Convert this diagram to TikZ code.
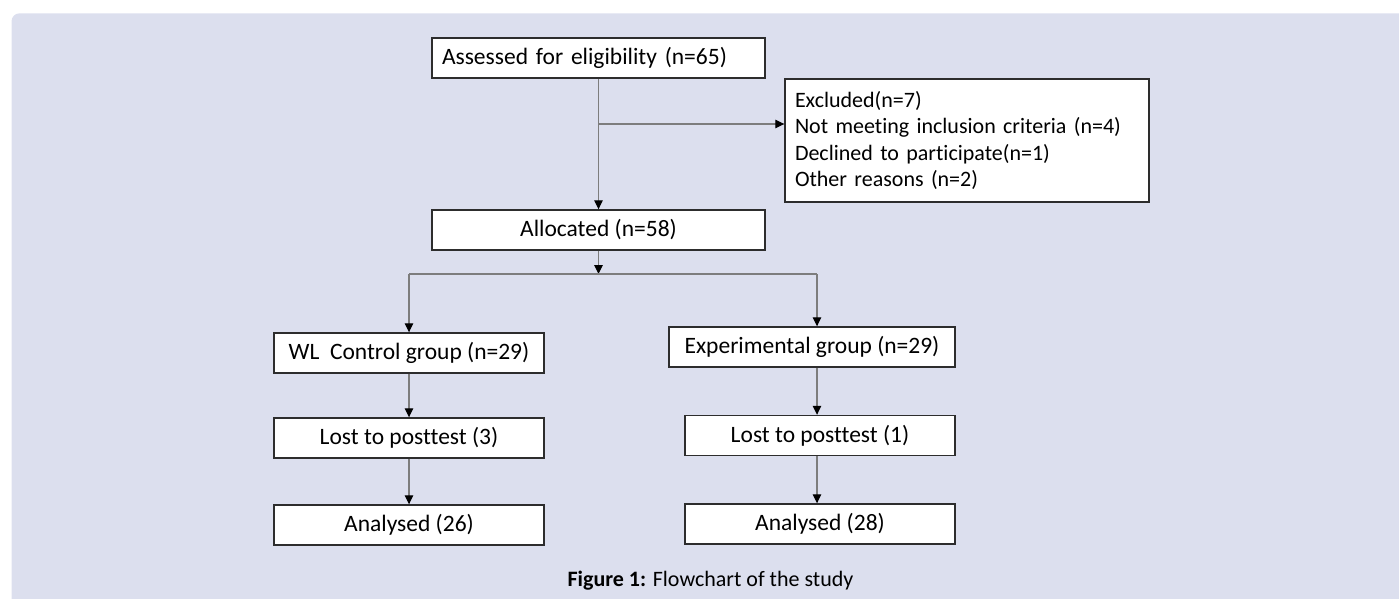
\documentclass[tikz,border=0pt]{standalone}
\usepackage{fontspec}
\setmainfont{Carlito}[Ligatures=NoCommon]
\usetikzlibrary{arrows.meta}
\definecolor{bgc}{RGB}{220,223,238}
\definecolor{linec}{RGB}{125,125,125}
\definecolor{boxc}{RGB}{45,45,45}
\begin{document}
\begin{tikzpicture}[x=1pt,y=-1pt,
 box/.style={draw=boxc, line width=1.4pt, fill=white, inner sep=0pt, minimum height=40pt, font=\fontsize{23.5}{28}\selectfont},
 conn/.style={draw=linec, line width=1.1pt},
 arr/.style={conn, -{Triangle[length=9pt,width=8.5pt,color=black,fill=black]}},
]
\useasboundingbox (0,0) rectangle (1399,599);
\clip (0,0) rectangle (1399,599);
\fill[bgc, rounded corners=8pt] (11.5,13.3) rectangle (1430,640);

\node[box, text width=313pt, inner xsep=10pt, align=left] (assess) at (598.5,58) {Assessed for eligibility (n=65)};
\node[box, text width=344pt, inner xsep=10pt, minimum height=123pt, align=left, font=\fontsize{22}{26.5}\selectfont] (excl) at (967,140.5) {Excluded(n=7)\\Not meeting inclusion criteria (n=4)\\Declined to participate(n=1)\\Other reasons (n=2)};
\node[box, minimum width=333pt] (alloc) at (598.5,230) {Allocated (n=58)};
\node[box, minimum width=270pt] (wl) at (409,353) {WL\ \ Control group (n=29)};
\node[box, minimum width=286pt] (exp) at (812,347) {Experimental group (n=29)};
\node[box, minimum width=270pt] (lost3) at (409,438) {Lost to posttest (3)};
\node[box, minimum width=270pt] (an26) at (409,525) {Analysed (26)};
\node[box, minimum width=270pt] (lost1) at (820,435.5) {Lost to posttest (1)};
\node[box, minimum width=270pt] (an28) at (820,524) {Analysed (28)};
\node[anchor=base, font=\fontsize{22}{26}\selectfont] (cap) at (710.5,586) {\textbf{Figure 1:} Flowchart of the study};

\coordinate (bj) at (598.5,124);
\coordinate (split) at (598.5,274);
\coordinate (rx) at (817,274);

\draw[arr] (assess.south) -- (alloc.north);
\draw[arr] (bj) -- (bj -| excl.west);
\draw[arr] (alloc.south) -- (split);
\draw[conn] (split -| wl.north) -- (rx);
\draw[arr] (split -| wl.north) -- (wl.north);
\draw[arr] (rx) -- (rx |- exp.north);
\draw[arr] (wl.south) -- (lost3.north);
\draw[arr] (lost3.south) -- (an26.north);
\draw[arr] (exp.south -| rx) -- (lost1.north -| rx);
\draw[arr] (lost1.south -| rx) -- (an28.north -| rx);
\end{tikzpicture}
\end{document}
